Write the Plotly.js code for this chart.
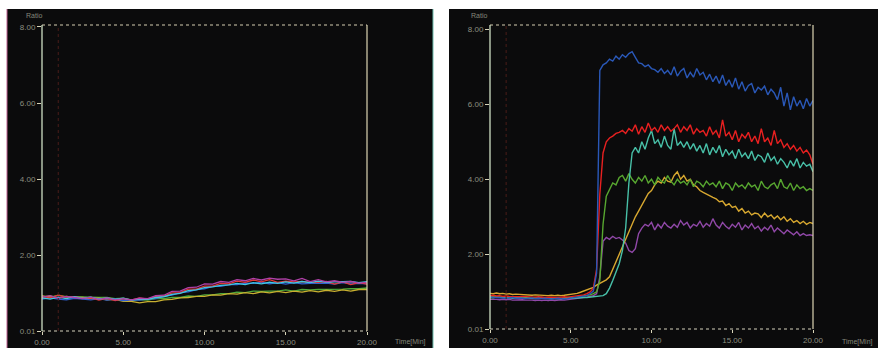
<!DOCTYPE html>
<html><head><meta charset="utf-8">
<script src="https://cdn.plot.ly/plotly-3.0.1.min.js"></script>
<style>html,body{margin:0;padding:0;background:#fff;}#chart{width:878px;height:348px;}</style>
</head><body><div id="chart"></div>
<script>
// ---------- Data ----------
// Left panel: time step 0.5 min
const timeLeft = [0,0.5,1,1.5,2,2.5,3,3.5,4,4.5,5,5.5,6,6.5,7,7.5,8,8.5,9,9.5,10,10.5,11,11.5,12,12.5,13,13.5,14,14.5,15,15.5,16,16.5,17,17.5,18,18.5,19,19.5,20];
const leftMagenta = [0.90,0.94,0.87,0.92,0.89,0.86,0.90,0.84,0.88,0.83, 0.86,0.83,0.87,0.86,0.94,0.95,1.05,1.06,1.15,1.16, 1.25,1.24,1.31,1.29,1.36,1.33,1.39,1.35,1.40,1.37, 1.38,1.33,1.39,1.31,1.36,1.30,1.33,1.29,1.31,1.27, 1.29];
const leftRed     = [0.93,0.88,0.95,0.90,0.91,0.87,0.88,0.82,0.87,0.81, 0.86,0.82,0.88,0.85,0.92,0.93,1.01,1.02,1.11,1.11, 1.19,1.19,1.26,1.25,1.32,1.29,1.35,1.30,1.36,1.29, 1.32,1.30,1.31,1.29,1.29,1.31,1.24,1.30,1.23,1.28, 1.24];
const leftBlue    = [0.85,0.88,0.85,0.83,0.87,0.85,0.83,0.86,0.82,0.85, 0.81,0.82,0.82,0.85,0.86,0.92,0.95,1.02,1.04,1.10, 1.12,1.18,1.18,1.23,1.23,1.27,1.26,1.29,1.25,1.28, 1.24,1.28,1.25,1.26,1.26,1.27,1.24,1.28,1.25,1.26, 1.25];
const leftCyan    = [0.88,0.85,0.90,0.86,0.91,0.87,0.90,0.85,0.88,0.84, 0.87,0.82,0.85,0.84,0.89,0.91,0.97,1.00,1.07,1.09, 1.15,1.17,1.21,1.22,1.26,1.23,1.28,1.25,1.29,1.26, 1.30,1.27,1.31,1.28,1.32,1.29,1.30,1.30,1.31,1.28, 1.31];
const leftGreen   = [0.94,0.90,0.95,0.91,0.91,0.90,0.90,0.89,0.89,0.86, 0.87,0.83,0.83,0.82,0.86,0.86,0.89,0.89,0.93,0.92, 0.96,0.96,0.99,0.99,1.03,1.02,1.06,1.05,1.06,1.06, 1.09,1.06,1.10,1.09,1.10,1.10,1.11,1.11,1.12,1.12, 1.14];
const leftYellow  = [0.90,0.93,0.88,0.92,0.89,0.89,0.86,0.87,0.83,0.84, 0.79,0.79,0.75,0.78,0.78,0.83,0.84,0.88,0.89,0.92, 0.92,0.96,0.95,0.99,0.98,1.02,0.99,1.04,1.01,1.05, 1.02,1.06,1.03,1.07,1.04,1.08,1.05,1.09,1.06,1.10, 1.10];

// Right panel: time step 0.2 min
const timeRight = [
 0.0,0.2,0.4,0.6,0.8,1.0,1.2,1.4,1.6,1.8,
 2.0,2.2,2.4,2.6,2.8,3.0,3.2,3.4,3.6,3.8,
 4.0,4.2,4.4,4.6,4.8,5.0,5.2,5.4,5.6,5.8,
 6.0,6.2,6.4,6.6,6.8,7.0,7.2,7.4,7.6,7.8,
 8.0,8.2,8.4,8.6,8.8,9.0,9.2,9.4,9.6,9.8,
 10.0,10.2,10.4,10.6,10.8,11.0,11.2,11.4,11.6,11.8,
 12.0,12.2,12.4,12.6,12.8,13.0,13.2,13.4,13.6,13.8,
 14.0,14.2,14.4,14.6,14.8,15.0,15.2,15.4,15.6,15.8,
 16.0,16.2,16.4,16.6,16.8,17.0,17.2,17.4,17.6,17.8,
 18.0,18.2,18.4,18.6,18.8,19.0,19.2,19.4,19.6,19.8,
 20.0];
const rightBlue = [
 0.86,0.85,0.84,0.85,0.84,0.83,0.84,0.85,0.83,0.84,
 0.83,0.82,0.83,0.84,0.82,0.83,0.82,0.83,0.82,0.81,
 0.82,0.83,0.82,0.81,0.82,0.83,0.84,0.85,0.86,0.88,
 0.90,0.95,1.02,1.50,6.90,7.05,7.10,7.20,7.15,7.28,
 7.20,7.32,7.25,7.35,7.40,7.25,7.10,7.08,7.00,7.05,
 6.95,6.92,6.85,6.95,6.82,6.90,6.78,7.00,6.75,6.88,
 6.95,6.70,6.85,6.72,6.95,6.78,6.85,6.65,6.80,6.60,
 6.75,6.55,6.78,6.50,6.65,6.45,6.70,6.40,6.60,6.35,
 6.50,6.55,6.30,6.45,6.38,6.48,6.25,6.40,6.30,6.12,
 6.45,5.95,6.30,5.85,6.20,5.95,6.10,5.88,6.15,5.95,
 6.10];
const rightRed = [
 0.90,0.91,0.89,0.90,0.88,0.89,0.88,0.87,0.88,0.87,
 0.88,0.87,0.86,0.87,0.86,0.87,0.86,0.85,0.86,0.85,
 0.86,0.85,0.86,0.87,0.86,0.87,0.88,0.89,0.90,0.92,
 0.95,1.00,1.10,1.60,3.60,4.70,5.00,5.10,5.15,5.22,
 5.25,5.30,5.22,5.35,5.28,5.45,5.20,5.40,5.25,5.50,
 5.30,5.38,5.25,5.45,5.30,5.40,5.28,5.35,5.45,5.25,
 5.40,5.30,5.45,5.20,5.35,5.25,5.30,5.15,5.40,5.20,
 5.30,5.10,5.58,5.15,5.25,5.05,5.30,5.00,5.20,5.10,
 5.25,5.00,5.15,4.95,5.35,5.00,5.10,4.90,5.30,4.95,
 5.05,4.85,4.95,4.80,4.90,4.75,4.85,4.70,4.78,4.65,
 4.40];
const rightTeal = [
 0.85,0.84,0.86,0.85,0.84,0.85,0.84,0.83,0.84,0.85,
 0.84,0.83,0.84,0.83,0.82,0.83,0.84,0.83,0.82,0.83,
 0.82,0.83,0.82,0.83,0.84,0.83,0.84,0.83,0.84,0.85,
 0.85,0.86,0.86,0.87,0.88,0.90,0.95,1.10,1.30,1.50,
 1.75,2.10,2.70,3.90,4.70,4.85,4.70,5.00,4.80,5.10,
 5.30,4.95,5.05,4.85,5.15,4.90,4.80,5.35,4.90,5.00,
 4.85,5.00,4.80,4.95,4.75,4.90,4.70,4.95,4.65,4.85,
 4.70,4.90,4.60,4.80,4.65,4.75,4.55,4.80,4.60,4.70,
 4.55,4.75,4.50,4.65,4.60,4.45,4.70,4.50,4.60,4.40,
 4.55,4.45,4.30,4.50,4.35,4.55,4.30,4.45,4.35,4.40,
 4.20];
const rightGreen = [
 0.88,0.87,0.88,0.86,0.87,0.86,0.87,0.86,0.85,0.86,
 0.85,0.86,0.85,0.84,0.85,0.84,0.85,0.84,0.83,0.84,
 0.83,0.84,0.83,0.84,0.85,0.84,0.85,0.86,0.87,0.88,
 0.90,0.92,0.95,1.00,1.30,2.80,3.55,3.75,3.90,3.85,
 4.05,4.10,3.95,4.15,4.00,3.90,4.05,3.95,4.10,3.90,
 4.00,3.85,4.05,3.95,3.90,4.10,3.95,3.85,4.00,3.90,
 3.95,3.85,4.00,3.80,3.95,3.90,3.80,3.95,3.85,3.90,
 3.80,3.95,3.75,3.90,3.85,3.70,3.90,3.80,3.85,3.75,
 3.90,3.80,3.85,3.70,3.95,3.80,3.75,3.85,3.90,3.75,
 4.00,3.80,3.75,3.90,3.70,3.85,3.75,3.80,3.70,3.75,
 3.70];
const rightYellow = [
 0.96,0.95,0.97,0.95,0.96,0.94,0.95,0.93,0.94,0.93,
 0.92,0.93,0.92,0.91,0.92,0.91,0.92,0.91,0.90,0.91,
 0.90,0.91,0.90,0.91,0.92,0.93,0.94,0.96,0.99,1.02,
 1.05,1.08,1.12,1.18,1.22,1.28,1.32,1.40,1.60,1.80,
 2.00,2.20,2.40,2.62,2.80,3.00,3.15,3.30,3.45,3.62,
 3.70,3.85,3.95,3.90,4.05,3.95,3.92,4.10,4.20,4.00,
 4.10,3.95,4.00,3.85,3.80,3.70,3.65,3.60,3.55,3.52,
 3.48,3.40,3.42,3.30,3.35,3.25,3.28,3.15,3.22,3.10,
 3.15,3.05,3.10,3.08,2.98,3.10,3.00,3.05,2.95,3.02,
 2.92,3.00,2.88,2.95,2.85,2.90,2.82,2.88,2.80,2.85,
 2.82];
const rightPurple = [
 0.80,0.81,0.80,0.79,0.80,0.79,0.80,0.78,0.79,0.80,
 0.79,0.78,0.79,0.78,0.77,0.78,0.77,0.78,0.77,0.78,
 0.77,0.78,0.79,0.78,0.79,0.80,0.81,0.82,0.83,0.84,
 0.86,0.88,0.90,0.95,1.40,2.35,2.45,2.40,2.48,2.42,
 2.45,2.38,2.30,2.10,2.05,2.15,2.55,2.70,2.80,2.75,
 2.85,2.65,2.80,2.70,2.85,2.75,2.70,2.80,2.72,2.90,
 2.78,2.85,2.70,2.80,2.75,2.88,2.72,2.82,2.75,2.95,
 2.78,2.70,2.85,2.75,2.68,2.80,2.72,2.85,2.65,2.78,
 2.70,2.82,2.68,2.75,2.62,2.72,2.65,2.78,2.60,2.70,
 2.62,2.55,2.65,2.58,2.52,2.60,2.50,2.55,2.50,2.52,
 2.50];

const xTickVals = [0, 5, 10, 15, 20];
const xTickText = ["0.00", "5.00", "10.00", "15.00", "20.00"];
const yTickVals = [0.01, 2, 4, 6, 8];
const yTickText = ["0.01", "2.00", "4.00", "6.00", "8.00"];
const markerTime = [1.0];

// ---------- Traces ----------
const leftSeries = [
  {y: leftGreen,   c: '#4fa83a'},
  {y: leftYellow,  c: '#c8b030'},
  {y: leftBlue,    c: '#3060d0'},
  {y: leftRed,     c: '#e03838'},
  {y: leftCyan,    c: '#40c8e0'},
  {y: leftMagenta, c: '#b040a8'}
];
const rightSeries = [
  {y: rightPurple, c: '#9048a8'},
  {y: rightYellow, c: '#d8a830'},
  {y: rightGreen,  c: '#58a830'},
  {y: rightTeal,   c: '#48c0a8'},
  {y: rightRed,    c: '#e82020'},
  {y: rightBlue,   c: '#2a58b8'}
];
const traces = [];
leftSeries.forEach(s => traces.push({x: timeLeft, y: s.y, xaxis: 'x', yaxis: 'y', type: 'scatter', mode: 'lines',
  line: {color: s.c, width: 1.3}, hoverinfo: 'none', showlegend: false}));
rightSeries.forEach(s => traces.push({x: timeRight, y: s.y, xaxis: 'x2', yaxis: 'y2', type: 'scatter', mode: 'lines',
  line: {color: s.c, width: 1.4}, hoverinfo: 'none', showlegend: false}));

// ---------- Layout ----------
const tickFont = {family: 'Liberation Sans, Arial, sans-serif', size: 8, color: '#8c8e80'};
function xAx(dom, anchor) {
  return {domain: dom, anchor: anchor, range: [0, 20], tickvals: xTickVals, ticktext: xTickText,
    showgrid: false, zeroline: false, showline: false, ticks: 'outside', ticklen: 3, tickwidth: 1,
    tickcolor: '#d8d4b8', tickfont: tickFont, fixedrange: true};
}
function yAx(dom, anchor, top) {
  return {domain: dom, anchor: anchor, range: [0.01, top], tickvals: yTickVals, ticktext: yTickText,
    showgrid: false, zeroline: false, showline: false, ticks: 'outside', ticklen: 4, tickwidth: 1,
    tickcolor: '#d8d4b8', tickfont: tickFont, fixedrange: true};
}
function frame(xr, yr, leftColor) {
  return [
    {type: 'line', xref: xr + ' domain', yref: yr + ' domain', x0: 0, x1: 1, y0: 1, y1: 1, line: {color: '#d6ceb0', width: 1.2, dash: 'dot'}},
    {type: 'line', xref: xr + ' domain', yref: yr + ' domain', x0: 0, x1: 1, y0: 0, y1: 0, line: {color: '#d6d2bc', width: 1.2, dash: 'dot'}},
    {type: 'line', xref: xr + ' domain', yref: yr + ' domain', x0: 0, x1: 0, y0: 0, y1: 1, line: {color: leftColor, width: 1.3}},
    {type: 'line', xref: xr + ' domain', yref: yr + ' domain', x0: 1, x1: 1, y0: 0, y1: 1, line: {color: '#ddd6b4', width: 1.2}},
    {type: 'line', xref: xr, yref: yr + ' domain', x0: markerTime[0], x1: markerTime[0], y0: 0, y1: 1, line: {color: '#4a1c18', width: 1, dash: 'dot'}}
  ];
}
const shapes = [
  {type: 'rect', xref: 'paper', yref: 'paper', x0: 7/878, x1: 433/878, y0: 0, y1: 1 - 9/348, fillcolor: '#0b0b0c', line: {width: 0}, layer: 'below'},
  {type: 'line', xref: 'paper', yref: 'paper', x0: 7/878, x1: 7/878, y0: 0, y1: 1 - 9/348, line: {color: '#c06090', width: 1}, layer: 'below'},
  {type: 'line', xref: 'paper', yref: 'paper', x0: 433/878, x1: 433/878, y0: 0, y1: 1 - 9/348, line: {color: '#70c0b0', width: 1}, layer: 'below'},
  {type: 'rect', xref: 'paper', yref: 'paper', x0: 449/878, x1: 1, y0: 0, y1: 1 - 9/348, fillcolor: '#0b0b0c', line: {width: 0}, layer: 'below'}
].concat(frame('x', 'y', '#cfe0c4'), frame('x2', 'y2', '#cfe0c4'));

const annFont = {family: 'Liberation Sans, Arial, sans-serif', size: 7, color: '#85877a'};
const layout = {
  width: 878, height: 348, margin: {l: 0, r: 0, t: 0, b: 0},
  paper_bgcolor: '#ffffff', plot_bgcolor: 'rgba(0,0,0,0)',
  showlegend: false,
  xaxis: xAx([42/878, 367/878], 'y'),
  yaxis: yAx([17/348, 323/348], 'x', 8.05),
  xaxis2: xAx([490/878, 813/878], 'y2'),
  yaxis2: yAx([19/348, 323/348], 'x2', 8.11),
  shapes: shapes,
  annotations: [
    {text: 'Ratio', xref: 'paper', yref: 'paper', x: 34/878, y: 1 - 15/348, showarrow: false, font: annFont, xanchor: 'center', yanchor: 'middle'},
    {text: 'Ratio', xref: 'paper', yref: 'paper', x: 479/878, y: 1 - 15/348, showarrow: false, font: annFont, xanchor: 'center', yanchor: 'middle'},
    {text: 'Time[Min]', xref: 'paper', yref: 'paper', x: 410/878, y: 1 - 342/348, showarrow: false, font: annFont, xanchor: 'center', yanchor: 'middle'},
    {text: 'Time[Min]', xref: 'paper', yref: 'paper', x: 857/878, y: 1 - 342/348, showarrow: false, font: annFont, xanchor: 'center', yanchor: 'middle'}
  ]
};
Plotly.newPlot('chart', traces, layout, {displayModeBar: false, staticPlot: true});
</script>
</body></html>
